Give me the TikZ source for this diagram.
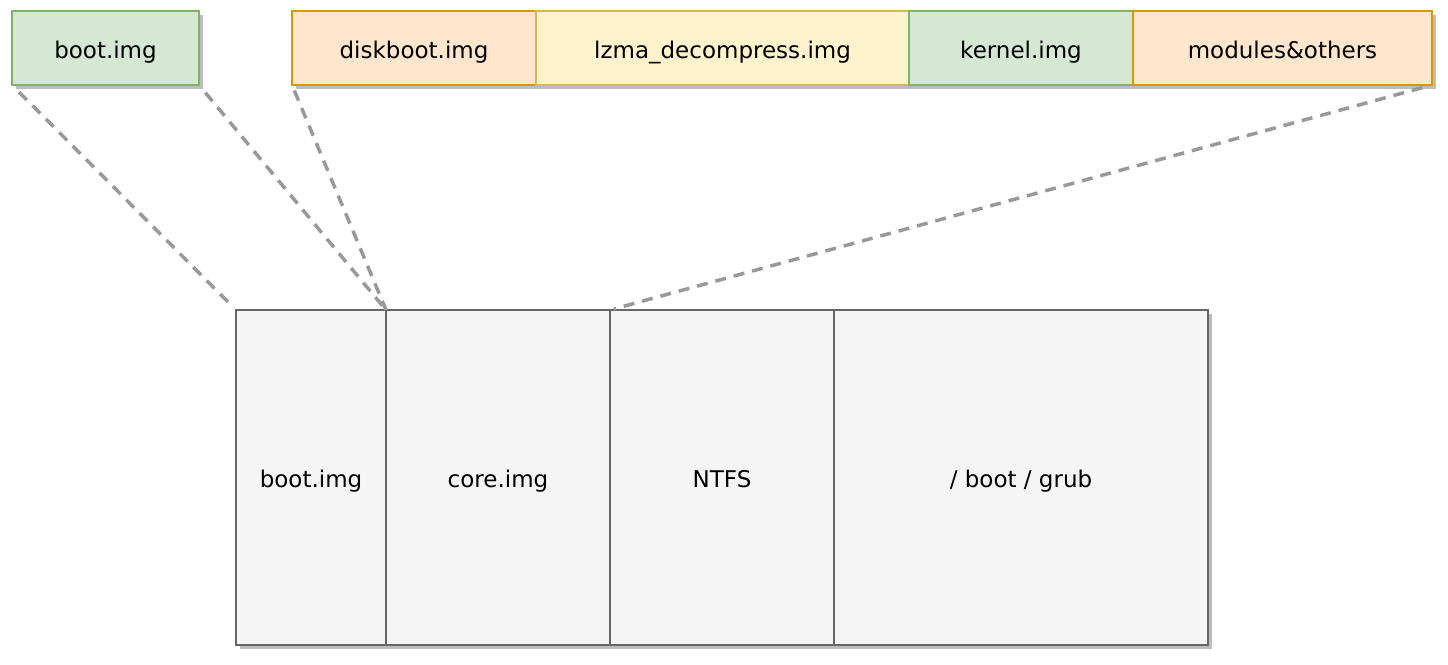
\documentclass[tikz,border=0pt]{standalone}
\usepackage{fontspec}
\setmainfont{DejaVu Sans}
\usetikzlibrary{shadows}
\definecolor{gfill}{HTML}{D5E8D4}
\definecolor{gline}{HTML}{82B366}
\definecolor{ofill}{HTML}{FFE6CC}
\definecolor{oline}{HTML}{D79B00}
\definecolor{yfill}{HTML}{FFF2CC}
\definecolor{yline}{HTML}{D6B656}
\definecolor{pfill}{HTML}{F5F5F5}
\definecolor{pline}{HTML}{666666}
\definecolor{dline}{HTML}{999999}
\definecolor{shade}{HTML}{BDBDBD}
\tikzset{
  blk/.style={draw, line width=1.5pt, inner sep=0pt, outer sep=0pt, anchor=north west,
    font=\fontsize{23}{26}\selectfont, text height=21pt, text depth=1pt,
    drop shadow={shadow xshift=4pt, shadow yshift=-4pt, fill=shade, opacity=1}},
  topblk/.style={blk, minimum height=74pt},
  green/.style={topblk, fill=gfill, draw=gline},
  orange/.style={topblk, fill=ofill, draw=oline},
  yellow/.style={topblk, fill=yfill, draw=yline},
  part/.style={blk, fill=pfill, draw=pline, minimum height=335pt},
  link/.style={draw=dline, line width=3.5pt, dash pattern=on 11pt off 8pt},
}
\begin{document}
\begin{tikzpicture}[x=1pt,y=-1pt]
\useasboundingbox (0,0) rectangle (1448,664);
% top row
\node[green, minimum width=187pt] (tboot) at (12,11) {boot.img};
\node[orange, minimum width=244pt] (tdisk) at (292,11) {diskboot.img};
\node[yellow, minimum width=373pt] (tlzma) at (536,11) {lzma\_decompress.img};
\node[green, minimum width=224pt] (tkern) at (909,11) {kernel.img};
\node[orange, minimum width=299pt] (tmod) at (1133,11) {modules\&others};
% bottom row
\node[part, minimum width=150pt] (bboot) at (236,310) {boot.img};
\node[part, minimum width=224pt] (bcore) at (386,310) {core.img};
\node[part, minimum width=224pt] (bntfs) at (610,310) {NTFS};
\node[part, minimum width=374pt] (bgrub) at (834,310) {/ boot / grub};
% dashed links
\draw[link, shorten <=10pt, shorten >=4pt] (tboot.south west) -- (bboot.north west);
\draw[link, shorten <=10pt] (tboot.south east) -- (bcore.north west);
\draw[link, shorten <=6pt] (tdisk.south west) -- (bcore.north west);
\draw[link, shorten <=10pt, shorten >=4pt] (tmod.south east) -- (bntfs.north west);
\end{tikzpicture}
\end{document}
